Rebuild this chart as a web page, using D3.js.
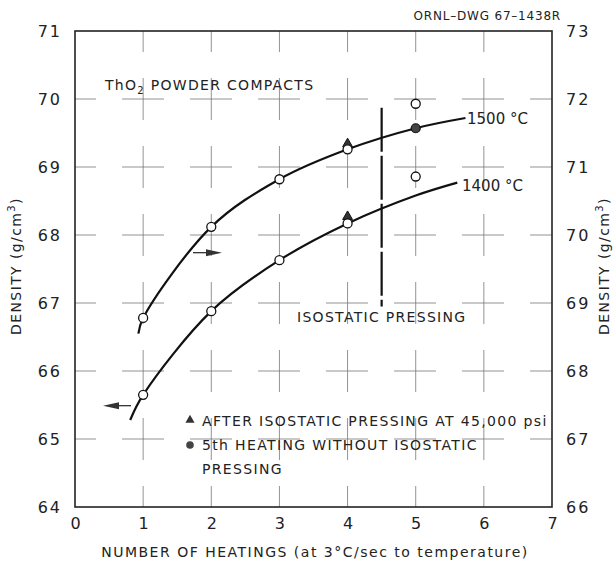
<!DOCTYPE html>
<html>
<head>
<meta charset="utf-8">
<script src="https://cdn.jsdelivr.net/npm/d3@7"></script>
<style>
  body { margin: 0; background: #fff; }
  svg text { font-family: "DejaVu Sans", "Liberation Sans", sans-serif; fill: #222; }
</style>
</head>
<body>
<svg id="chart" width="615" height="561"></svg>
<script>
// tick values
const xTicks = [0, 1, 2, 3, 4, 5, 6, 7];
const yLeftTicks = [64, 65, 66, 67, 68, 69, 70, 71];
const yRightTicks = [66, 67, 68, 69, 70, 71, 72, 73];

// open circles (measured densities)
const open1500 = [[1, 66.78], [2, 68.12], [3, 68.82], [4, 69.26], [5, 69.93]];
const open1400 = [[1, 65.65], [2, 66.88], [3, 67.63], [4, 68.17], [5, 68.86]];
// after isostatic pressing (triangles)
const isoPoints = [[4, 69.34], [4, 68.27]];
// 5th heating without isostatic pressing (filled circle)
const fifthPoints = [[5, 69.57]];

// fitted curves
const curve1500 = [[0.93, 66.55], [1, 66.78], [2, 68.12], [3, 68.82], [4, 69.26], [5, 69.57], [5.73, 69.72]];
const curve1400 = [[0.81, 65.28], [1, 65.65], [2, 66.88], [3, 67.63], [4, 68.17], [5, 68.58], [5.61, 68.77]];

const isoLine = [[4.5, 69.87], [4.5, 66.95]];

const svg = d3.select("#chart");
const m = { left: 75, right: 552, top: 31, bottom: 507 };

const x = d3.scaleLinear().domain([0, 7]).range([m.left, m.right]);
const y = d3.scaleLinear().domain([64, 71]).range([m.bottom, m.top]);
const yR = d3.scaleLinear().domain([66, 73]).range([m.bottom, m.top]);

// dashed grid with crosses at the intersections
const g = svg.append("g").attr("stroke", "#777").attr("stroke-width", 0.8).attr("fill", "none");
g.selectAll("line.v").data(xTicks.slice(1, -1)).join("line")
  .attr("x1", d => x(d)).attr("x2", d => x(d))
  .attr("y1", m.bottom).attr("y2", m.top)
  .attr("stroke-dasharray", "42,26").attr("stroke-dashoffset", -47);
g.selectAll("line.h").data(yLeftTicks.slice(1, -1)).join("line")
  .attr("x1", m.left).attr("x2", m.right)
  .attr("y1", d => y(d)).attr("y2", d => y(d))
  .attr("stroke-dasharray", "42,26").attr("stroke-dashoffset", -47);

// frame
svg.append("rect")
  .attr("x", m.left).attr("y", m.top)
  .attr("width", m.right - m.left).attr("height", m.bottom - m.top)
  .attr("fill", "none").attr("stroke", "#222").attr("stroke-width", 1.6);

// axis tick labels
function styleTicks(a) {
  a.select(".domain").remove();
  a.selectAll("text").attr("font-size", 16).attr("fill", "#222")
    .style("font-family", "DejaVu Sans, sans-serif");
}
svg.append("g").attr("transform", `translate(0,${m.bottom})`)
  .call(d3.axisBottom(x).tickValues(xTicks).tickFormat(d3.format("d")).tickSize(0).tickPadding(11))
  .call(styleTicks);

svg.append("g").attr("transform", `translate(${m.left},0)`)
  .call(d3.axisLeft(y).tickValues(yLeftTicks).tickFormat(d3.format("d")).tickSize(0).tickPadding(13))
  .call(styleTicks)
  .selectAll("text").attr("letter-spacing", 2);

svg.append("g").attr("transform", `translate(${m.right},0)`)
  .call(d3.axisRight(yR).tickValues(yRightTicks).tickFormat(d3.format("d")).tickSize(0).tickPadding(14))
  .call(styleTicks)
  .selectAll("text").attr("letter-spacing", 2);

// axis titles
svg.append("text").attr("x", 315).attr("y", 557).attr("text-anchor", "middle")
  .attr("font-size", 14).attr("letter-spacing", 1.5)
  .text("NUMBER OF HEATINGS (at 3°C/sec to temperature)");

function densityLabel(cx, cy) {
  const t = svg.append("text").attr("transform", `translate(${cx},${cy}) rotate(-90)`)
    .attr("text-anchor", "middle").attr("font-size", 14).attr("letter-spacing", 1.4);
  t.append("tspan").text("DENSITY (g/cm");
  t.append("tspan").attr("dy", -6).attr("font-size", 10).text("3");
  t.append("tspan").attr("dy", 6).text(")");
}
densityLabel(21, 266);
densityLabel(609, 266);

// curves
const line = d3.line().x(d => x(d[0])).y(d => y(d[1])).curve(d3.curveCatmullRom.alpha(0.5));
svg.append("path").datum(curve1500).attr("d", line)
  .attr("fill", "none").attr("stroke", "#111").attr("stroke-width", 2.2);
svg.append("path").datum(curve1400).attr("d", line)
  .attr("fill", "none").attr("stroke", "#111").attr("stroke-width", 2.2);

// isostatic pressing marker line
svg.append("path").datum(isoLine).attr("d", d3.line().x(d => x(d[0])).y(d => y(d[1])))
  .attr("stroke", "#111").attr("stroke-width", 2.2).attr("stroke-dasharray", "44,4");

// triangles
const tri = d3.symbol().type(d3.symbolTriangle).size(42);
svg.selectAll("path.tri").data(isoPoints).join("path")
  .attr("transform", d => `translate(${x(d[0])},${y(d[1])})`)
  .attr("d", tri).attr("fill", "#333").attr("stroke", "#111");

// open circles
svg.selectAll("circle.open").data(open1500.concat(open1400)).join("circle")
  .attr("cx", d => x(d[0])).attr("cy", d => y(d[1])).attr("r", 4.5)
  .attr("fill", "#fff").attr("stroke", "#111").attr("stroke-width", 1.3);

// filled circle
svg.selectAll("circle.fifth").data(fifthPoints).join("circle")
  .attr("cx", d => x(d[0])).attr("cy", d => y(d[1])).attr("r", 4.5)
  .attr("fill", "#444").attr("stroke", "#111").attr("stroke-width", 1.2);

// arrows showing which axis each curve belongs to
function arrow(x1, x2, yy) {
  const dir = Math.sign(x2 - x1);
  svg.append("line").attr("x1", x1).attr("x2", x2 - dir * 12).attr("y1", yy).attr("y2", yy)
    .attr("stroke", "#333").attr("stroke-width", 1.3);
  svg.append("path")
    .attr("d", `M${x2},${yy} L${x2 - dir * 16},${yy - 3.5} L${x2 - dir * 16},${yy + 3.5} Z`)
    .attr("fill", "#333");
}
arrow(131, 103, y(65.49));
arrow(193, 222, y(67.74));

// texts
const t1 = svg.append("text").attr("x", 105).attr("y", 90).attr("font-size", 14).attr("letter-spacing", 1.3);
t1.append("tspan").text("ThO");
t1.append("tspan").attr("dy", 4).attr("font-size", 10).text("2");
t1.append("tspan").attr("dy", -4).text(" POWDER COMPACTS");

svg.append("text").attr("x", 467).attr("y", 124).attr("font-size", 15).text("1500 °C");
svg.append("text").attr("x", 462).attr("y", 191).attr("font-size", 15).text("1400 °C");
svg.append("text").attr("x", 297).attr("y", 322).attr("font-size", 14).attr("letter-spacing", 1.3)
  .text("ISOSTATIC PRESSING");
svg.append("text").attr("x", 561).attr("y", 20).attr("text-anchor", "end")
  .attr("font-size", 12).attr("letter-spacing", 0.8).text("ORNL–DWG 67–1438R");

// legend
svg.append("path").attr("transform", "translate(190,420)")
  .attr("d", d3.symbol().type(d3.symbolTriangle).size(36)).attr("fill", "#333");
svg.append("circle").attr("cx", 190).attr("cy", 445).attr("r", 3.8).attr("fill", "#444");
const legendText = svg.append("g").attr("font-size", 14).attr("letter-spacing", 1.35);
legendText.append("text").attr("x", 202).attr("y", 426).text("AFTER ISOSTATIC PRESSING AT 45,000 psi");
legendText.append("text").attr("x", 202).attr("y", 450).text("5th HEATING WITHOUT ISOSTATIC");
legendText.append("text").attr("x", 202).attr("y", 474).text("PRESSING");
</script>
</body>
</html>
